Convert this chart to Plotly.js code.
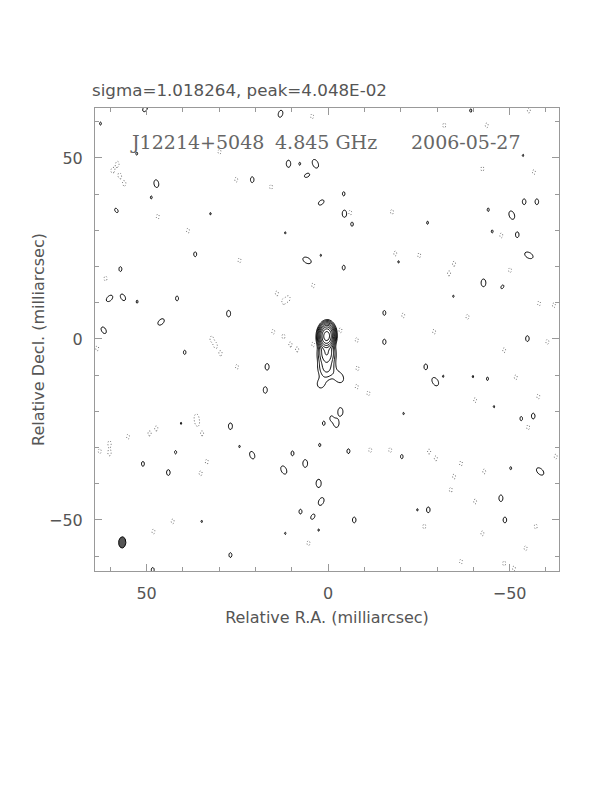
<!DOCTYPE html>
<html><head><meta charset="utf-8">
<script src="https://cdn.plot.ly/plotly-3.0.1.min.js"></script>
<style>html,body{margin:0;padding:0;background:#fff}</style>
</head><body><div id="chart" style="width:612px;height:792px"></div>
<script>
// ---- map parameters ----
const titleText = 'sigma=1.018264, peak=4.048E-02';
const sourceName = 'J12214+5048';
const freqText = '4.845 GHz';
const dateText = '2006-05-27';
const xTickVals = [50, 0, -50];
const yTickVals = [-50, 0, 50];
// contour levels in units of the lowest contour
const posLevels = [1, 2, 4, 8, 16, 32, 64, 128, 256];
const negLevels = [1];

// restoring beam (FWHM, mas) and position of the beam marker
const beamX = [56.7];
const beamY = [-56.2];
const beamMaj = [3.1];
const beamMin = [2.0];
const beamPA = [-3];
// typical size of a noise peak (FWHM, mas)
const noiseMaj = [2.6];
const noiseMin = [1.6];

// source components (x, y in mas; amplitude in units of lowest contour)
const compX   = [0.4, 0.4, 0.4, -3.0, 2.0];
const compY   = [0.8, -3.8, -7.8, -10.6, -12.4];
const compAmp = [400, 16, 5, 1.9, 1.45];
const compMaj = [3.1, 3.8, 4.5, 3.2, 3.0];
const compMin = [2.0, 2.6, 3.2, 2.4, 2.5];
const compPA  = [-3, 0, 0, 30, -10];

// positive noise peaks
const posX = [50.4,62.7,52.7,47.3,20.9,48.7,58.3,32.4,36.6,57.2,60.2,56.5,52.6,41.6,27.4,46.0,61.8,39.5,40.5,26.9,24.4,20.9,42.0,51.0,44.0,34.8,26.9,48.3,
  13.1,10.9,7.8,3.5,5.8,-4.3,1.9,-4.5,-6.6,11.8,5.8,2.0,-4.3,-19.4,-15.5,-15.5,16.8,17.3,-3.4,-0.9,-2.3,1.2,-20.8,2.3,-5.6,9.8,-20.3,6.3,12.2,2.6,1.9,7.6,4.2,-7.2,11.8,2.6,
  -39.3,-53.7,-54.0,-57.5,-44.1,-50.6,-27.4,-45.2,-52.1,-55.3,-42.8,-48.0,-34.5,-54.9,-26.9,-29.5,-31.7,-39.9,-43.9,-45.7,-53.2,-56.5,-50.3,-58.4,-47.6,-24.6,-27.6,-48.7];
const posY = [63.6,59.5,51.2,42.9,44.0,39.1,35.5,34.6,23.4,19.3,11.2,11.5,10.3,11.2,7.0,4.7,2.4,-3.7,-23.3,-24.1,-29.7,-32.1,-31.3,-34.5,-36.9,-50.4,-59.7,-63.8,
  62.2,48.4,48.4,48.4,45.2,40.1,37.7,34.6,31.7,29.3,21.7,23.1,19.7,21.3,7.2,-0.8,-7.7,-14.1,-20.1,-21.9,-23.3,-23.3,-20.6,-29.3,-31.0,-31.6,-32.5,-34.4,-36.2,-39.9,-44.9,-47.7,-49.1,-50.0,-53.7,-52.8,
  63.1,50.7,37.9,37.9,35.7,34.2,32.1,29.7,28.8,23.1,15.5,14.4,11.8,0.1,-7.7,-11.8,-10.3,-10.4,-11.0,-18.7,-22.0,-21.3,-35.7,-36.6,-44.0,-47.2,-47.2,-50.0];
const posAmp = [1.4,1.08,1.08,1.6,1.3,1.08,1.2,1.05,1.2,1.2,1.6,1.5,1.08,1.2,1.4,1.6,1.5,1.15,1.05,1.4,1.05,1.6,1.1,1.2,1.3,1.05,1.2,1.2,
  1.5,1.5,1.08,1.9,1.3,1.15,1.4,1.5,1.15,1.05,1.9,1.05,1.2,1.05,1.2,1.25,1.4,1.4,1.7,1.15,1.7,1.15,1.05,1.1,1.2,1.2,1.15,1.6,1.8,1.7,1.7,1.2,1.3,1.3,1.05,1.05,
  1.1,1.05,1.3,1.3,1.1,1.8,1.08,1.08,1.3,1.9,1.6,1.15,1.05,1.3,1.3,1.9,1.05,1.05,1.1,1.05,1.15,1.3,1.08,1.85,1.4,1.05,1.3,1.3];
const posPA = [-30,0,0,10,0,0,30,0,0,0,-45,30,0,0,0,-45,30,0,0,0,0,20,0,0,0,0,0,0,
  -15,0,0,25,-60,0,-50,0,0,0,60,0,0,0,0,0,0,0,0,0,0,0,0,0,0,0,0,0,25,0,-25,0,-30,0,0,0,
  0,0,0,0,0,20,0,0,0,60,0,-30,0,0,0,30,0,0,0,0,0,0,0,45,0,0,0,0];

// negative noise peaks (drawn dotted)
const negX = [29.9,58.0,59.4,57.4,56.1,25.3,46.9,38.6,24.4,61.3,32.1,31.0,29.6,63.6,25.1,36.3,36.0,47.3,49.2,34.7,55.1,60.2,60.2,62.9,33.4,35.1,42.8,48.1,
  4.4,15.7,-6.1,-17.6,-18.5,4.1,14.1,12.3,10.9,-20.7,15.1,12.3,10.4,8.5,-3.4,-7.9,4.1,-8.1,-11.1,-7.9,-11.6,-17.1,5.4,
  -55.3,-32.0,-43.7,-42.5,-56.7,-47.7,-25.1,-34.7,-33.3,-50.1,-58.1,-62.2,-38.4,-29.2,-60.4,-48.5,-51.7,-40.5,-57.9,-55.1,-27.8,-29.7,-36.6,-62.7,-43.0,-34.7,-33.8,-40.5,-26.5,-42.5,-57.2,-54.4,-36.6,-48.5,-51.2];
const negY = [51.7,48.4,46.5,45.1,42.9,44.0,33.8,29.9,21.7,16.7,0.1,-1.8,-4.0,-2.6,-7.7,-21.5,-23.3,-24.7,-26.1,-26.1,-27.0,-28.8,-31.6,-31.0,-33.9,-37.1,-50.4,-53.2,
  61.5,42.0,34.9,35.1,23.6,14.8,12.6,10.3,11.2,6.5,2.0,0.7,-1.5,-2.9,2.4,-0.3,-1.5,-8.1,-15.0,-13.2,-30.7,-30.7,-56.4,
  63.1,59.0,59.0,47.0,46.1,28.6,23.1,20.8,18.1,19.0,9.8,9.3,6.1,2.0,-0.8,-3.1,-10.6,-16.9,-15.9,-24.4,-31.1,-33.0,-34.4,-32.5,-36.6,-38.0,-41.7,-44.9,-51.8,-53.7,-51.8,-57.8,-61.5,-62.0,-63.4];
const negAmp = negX.map(() => 1.2);

// ---- build the map grid from the components ----
const step = 0.25, gMin = -64.75, nG = 519;
const gx = [], gy = [];
for (let i = 0; i < nG; i++) { gx.push(+(gMin + i * step).toFixed(3)); gy.push(+(gMin + i * step).toFixed(3)); }
function emptyGrid() { const z = []; for (let j = 0; j < nG; j++) z.push(new Array(nG).fill(0)); return z; }
function addGauss(z, x0, y0, amp, fmaj, fmin, paDeg) {
  const smaj = fmaj / 2.3548, smin = fmin / 2.3548, pa = paDeg * Math.PI / 180;
  const s = Math.sin(pa), c = Math.cos(pa), R = 4.5 * smaj * Math.sqrt(1 + Math.log(Math.max(amp, 1)) / 2);
  const i0 = Math.max(0, Math.floor((x0 - R - gMin) / step)), i1 = Math.min(nG - 1, Math.ceil((x0 + R - gMin) / step));
  const j0 = Math.max(0, Math.floor((y0 - R - gMin) / step)), j1 = Math.min(nG - 1, Math.ceil((y0 + R - gMin) / step));
  for (let j = j0; j <= j1; j++) {
    const dy = gy[j] - y0;
    for (let i = i0; i <= i1; i++) {
      const dx = gx[i] - x0;
      const u = dx * s + dy * c, v = dx * c - dy * s;
      z[j][i] += amp * Math.exp(-0.5 * (u * u / (smaj * smaj) + v * v / (smin * smin)));
    }
  }
}
const zPos = emptyGrid(), zNeg = emptyGrid();
compX.forEach((x, k) => addGauss(zPos, x, compY[k], compAmp[k], compMaj[k], compMin[k], compPA[k]));
posX.forEach((x, k) => addGauss(zPos, x, posY[k], posAmp[k], noiseMaj[0], noiseMin[0], posPA[k]));
negX.forEach((x, k) => addGauss(zNeg, x, negY[k], negAmp[k], noiseMaj[0], noiseMin[0], 0));
// log2 so that doubling contour levels become evenly spaced
const zPosLog = zPos.map(r => r.map(v => v > 1e-6 ? Math.log2(v) : -20));
const lvLog = posLevels.map(Math.log2);

// beam outline
const bx = [], by = [];
{
  const a = beamMaj[0] / 2, b = beamMin[0] / 2, pa = beamPA[0] * Math.PI / 180;
  for (let t = 0; t <= 72; t++) {
    const th = t / 72 * 2 * Math.PI, u = a * Math.cos(th), v = b * Math.sin(th);
    bx.push(beamX[0] + u * Math.sin(pa) + v * Math.cos(pa));
    by.push(beamY[0] + u * Math.cos(pa) - v * Math.sin(pa));
  }
}

const grey = '#555', frame = '#999';
const traces = [
  { type: 'contour', x: gx, y: gy, z: zPosLog, autocontour: false,
    contours: { start: lvLog[0], end: lvLog[lvLog.length - 1], size: 1, coloring: 'none' },
    line: { color: '#000', width: 1, smoothing: 1 }, showscale: false, hoverinfo: 'skip' },
  { type: 'contour', x: gx, y: gy, z: zNeg, autocontour: false,
    contours: { start: negLevels[0], end: negLevels[0] + 0.5, size: 1, coloring: 'none' },
    line: { color: '#666', width: 1, dash: '1px,2px', smoothing: 1 }, showscale: false, hoverinfo: 'skip' },
  { type: 'scatter', mode: 'lines', x: bx, y: by, fill: 'toself', fillcolor: '#555',
    line: { color: '#000', width: 1 }, hoverinfo: 'skip', showlegend: false }
];

const L = 95, R = 559, T = 108, B = 571;
const px2x = p => (p - L) / (R - L), py2y = p => (B - p) / (B - T);
const axisCommon = {
  showgrid: false, zeroline: false, showline: true, linecolor: frame, linewidth: 1, mirror: 'allticks',
  ticks: 'inside', ticklen: 7, tickcolor: frame, tickwidth: 1,
  minor: { ticks: 'inside', ticklen: 4, dtick: 10, tickcolor: frame, tickwidth: 1, showgrid: false },
  tickfont: { family: 'DejaVu Sans', size: 16, color: grey }, tickmode: 'array', fixedrange: true
};
const txtFont = { family: 'DejaVu Serif', size: 19, color: '#666' };
const layout = {
  width: 612, height: 792, paper_bgcolor: '#fff', plot_bgcolor: '#fff', showlegend: false,
  margin: { l: L, r: 612 - R, t: T, b: 792 - B, pad: 0 },
  title: { text: titleText, font: { family: 'DejaVu Sans', size: 16.7, color: grey },
    xref: 'container', x: 92 / 612, xanchor: 'left', yref: 'container', y: 1 - 90 / 792, yanchor: 'middle' },
  xaxis: Object.assign({}, axisCommon, { range: [64.2, -63.6], tickvals: xTickVals, ticktext: xTickVals.map(v => v < 0 ? '\u2212' + Math.abs(v) : String(v)),
    ticklabelstandoff: 8,
    title: { text: 'Relative R.A. (milliarcsec)', font: { family: 'DejaVu Sans', size: 16, color: grey }, standoff: 9 } }),
  yaxis: Object.assign({}, axisCommon, { range: [-64.1, 63.8], tickvals: yTickVals, ticktext: yTickVals.map(v => v < 0 ? '\u2212' + Math.abs(v) : String(v)),
    ticklabelstandoff: 8,
    title: { text: 'Relative Decl. (milliarcsec)', font: { family: 'DejaVu Sans', size: 16, color: grey }, standoff: 0 } }),
  annotations: [
    { text: sourceName, xref: 'paper', yref: 'paper', x: px2x(128), y: py2y(142), xanchor: 'left', yanchor: 'middle', showarrow: false, font: txtFont },
    { text: freqText, xref: 'paper', yref: 'paper', x: px2x(273), y: py2y(142), xanchor: 'left', yanchor: 'middle', showarrow: false, font: txtFont },
    { text: dateText, xref: 'paper', yref: 'paper', x: px2x(466), y: py2y(142), xanchor: 'center', yanchor: 'middle', showarrow: false, font: txtFont }
  ]
};
Plotly.newPlot('chart', traces, layout, { staticPlot: true, displayModeBar: false });
</script></body></html>
